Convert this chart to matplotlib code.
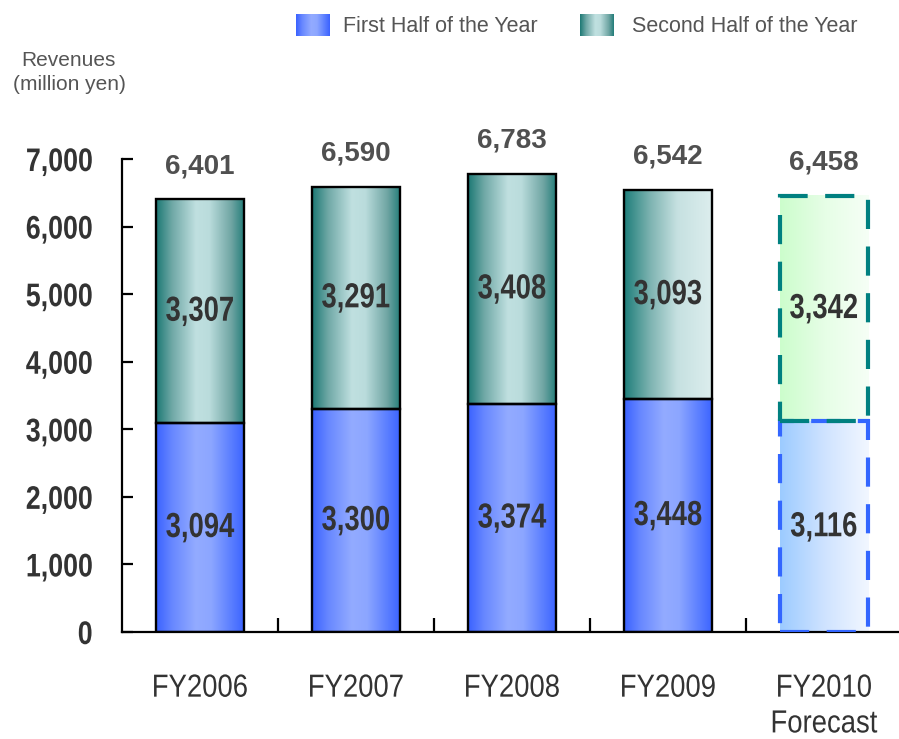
import numpy as np
import matplotlib
matplotlib.use("Agg")
import matplotlib.pyplot as plt
from matplotlib.colors import to_rgb
from matplotlib.patheffects import AbstractPathEffect
from matplotlib.transforms import Affine2D

# ---- data -------------------------------------------------------------
categories = ['FY2006', 'FY2007', 'FY2008', 'FY2009', 'FY2010\nForecast']
first_half = [3094, 3300, 3374, 3448, 3116]
second_half = [3307, 3291, 3408, 3093, 3342]
totals = [6401, 6590, 6783, 6542, 6458]
y_ticks = [0, 1000, 2000, 3000, 4000, 5000, 6000, 7000]
legend_labels = ['First Half of the Year', 'Second Half of the Year']

# ---- styling -------------------------------------------------------------
SANS = ['Liberation Sans', 'Arial', 'DejaVu Sans']


class Squeeze(AbstractPathEffect):
    """Horizontally condense text glyphs (narrow face look)."""

    def __init__(self, sx=0.82, anchor='center'):
        super().__init__()
        self.sx = sx
        self.anchor = anchor

    def draw_path(self, renderer, gc, tpath, affine, rgbFace=None):
        v = tpath.vertices
        if len(v):
            x0, x1 = v[:, 0].min(), v[:, 0].max()
            ref = {'center': 0.5 * (x0 + x1), 'right': x1, 'left': x0}[self.anchor]
        else:
            ref = 0.0
        squeeze = Affine2D().translate(-ref, 0).scale(self.sx, 1).translate(ref, 0)
        renderer.draw_path(gc, tpath, squeeze + affine, rgbFace)


VALUE_FX = [Squeeze(0.79, 'center')]
YTICK_FX = [Squeeze(0.82, 'right')]
XTICK_FX = [Squeeze(0.86, 'center')]

BLUE_STOPS = [(0.0, '#3A62FF'), (0.18, '#6787FF'), (0.45, '#93ABFF'),
              (0.62, '#8CA6FF'), (0.85, '#5A7EFF'), (1.0, '#3A62FF')]
TEAL_STOPS = [(0.0, '#1C7874'), (0.18, '#6FA8A6'), (0.45, '#C0E0E0'),
              (0.6, '#BADCDC'), (0.85, '#6FA5A3'), (1.0, '#217C78')]
TEAL_FADE_STOPS = [(0.0, '#1E7E7A'), (0.3, '#7FB4B2'), (0.6, '#C6E1E1'),
                   (1.0, '#DDEEEE')]
GREEN_FC_STOPS = [(0.0, '#CCFDCC'), (0.5, '#E6FEE6'), (1.0, '#F6FFF6')]
BLUE_FC_STOPS = [(0.0, '#9CCBFF'), (0.5, '#CFE3FF'), (1.0, '#F2F7FF')]


def hgrad(stops, n=256):
    """Horizontal colour ramp as a (1, n, 3) image."""
    pos = np.array([p for p, _ in stops])
    cols = np.array([to_rgb(c) for _, c in stops])
    t = np.linspace(0, 1, n)
    img = np.stack([np.interp(t, pos, cols[:, k]) for k in range(3)], axis=-1)
    return img[np.newaxis, :, :]


def fill_rect(ax, rect, stops, z):
    x0, y0 = rect.get_x(), rect.get_y()
    w, h = rect.get_width(), rect.get_height()
    ax.imshow(hgrad(stops), extent=(x0, x0 + w, y0, y0 + h), aspect='auto',
              interpolation='bilinear', zorder=z)


fig = plt.figure(figsize=(8.99, 7.39), dpi=100)
W, H = 899, 739
ax = fig.add_axes([122 / W, (H - 632) / H, (W - 122) / W, (632 - 159) / H])

x = np.arange(len(categories))
bar_w = 0.565
n_actual = 4

# actual years: solid black outline with gradient fill
b1 = ax.bar(x[:n_actual], first_half[:n_actual], width=bar_w, facecolor='none',
            edgecolor='black', linewidth=1.7, zorder=3)
b2 = ax.bar(x[:n_actual], second_half[:n_actual], width=bar_w,
            bottom=first_half[:n_actual], facecolor='none',
            edgecolor='black', linewidth=1.7, zorder=3)
for r in b1:
    fill_rect(ax, r, BLUE_STOPS, 2)
for i, r in enumerate(b2):
    fill_rect(ax, r, TEAL_FADE_STOPS if i == 3 else TEAL_STOPS, 2)

# forecast year: dashed outline, pale fill
f1 = ax.bar(x[n_actual:], first_half[n_actual:], width=bar_w, facecolor='none',
            edgecolor='#3366FF', linewidth=3.0, linestyle=(0, (7.0, 4.2)),
            zorder=3)
f2 = ax.bar(x[n_actual:], second_half[n_actual:], width=bar_w,
            bottom=first_half[n_actual:], facecolor='none',
            edgecolor='#008080', linewidth=3.0, linestyle=(0, (7.0, 4.2)),
            zorder=4)
fill_rect(ax, f1[0], BLUE_FC_STOPS, 2)
fill_rect(ax, f2[0], GREEN_FC_STOPS, 2)

# segment values and totals
for i in range(len(categories)):
    ax.text(x[i], first_half[i] / 2, f'{first_half[i]:,}', ha='center',
            va='center', fontsize=25, fontweight='bold', family=SANS,
            color='#333333', zorder=6, path_effects=VALUE_FX)
    ax.text(x[i], first_half[i] + second_half[i] / 2, f'{second_half[i]:,}',
            ha='center', va='center', fontsize=25, fontweight='bold',
            family=SANS, color='#333333', zorder=6, path_effects=VALUE_FX)
    ax.annotate(f'{totals[i]:,}', xy=(x[i], first_half[i] + second_half[i]),
                xytext=(0, 24), textcoords='offset points', ha='center',
                va='center', fontsize=20, fontweight='bold', family=SANS,
                color='#505050', annotation_clip=False)

# axes
ax.set_xlim(-0.5, -0.5 + (W - 122) / 156)
ax.set_ylim(0, 7000)
for s in ('top', 'right'):
    ax.spines[s].set_visible(False)
for s in ('left', 'bottom'):
    ax.spines[s].set_linewidth(1.6)
    ax.spines[s].set_color('black')

ax.set_yticks(y_ticks)
ax.set_yticklabels([f'{v:,}' for v in y_ticks], fontsize=23.5, fontweight='bold',
                   family=SANS, color='#333333')
for t in ax.get_yticklabels():
    t.set_path_effects(YTICK_FX)
ax.tick_params(axis='y', direction='in', length=8, width=1.6, pad=21)

ax.set_xticks(x)
ax.set_xticklabels(categories, fontsize=23, family=SANS, color='#333333',
                   linespacing=1.25, va='top')
for t in ax.get_xticklabels():
    t.set_path_effects(XTICK_FX)
ax.set_xticks(x[:-1] + 0.5, minor=True)
ax.tick_params(axis='x', which='major', length=0, pad=30)
ax.tick_params(axis='x', which='minor', direction='in', length=10, width=1.6)

# legend
leg_boxes = [(296, BLUE_STOPS), (580, TEAL_STOPS)]
leg_text_x = [343, 632]
for (bx, stops), tx, lab in zip(leg_boxes, leg_text_x, legend_labels):
    lax = fig.add_axes([bx / W, (H - 36) / H, 34 / W, 22 / H])
    lax.imshow(hgrad(stops), aspect='auto', interpolation='bilinear')
    lax.set_axis_off()
    fig.text(tx / W, 1 - 26 / H, lab, ha='left', va='center', fontsize=15.5,
             family=SANS, color='#555555')

# axis title
fig.text(68 / W, 1 - 61 / H, 'Revenues', ha='center', va='center',
         fontsize=15, family=SANS, color='#555555')
fig.text(69 / W, 1 - 84 / H, '(million yen)', ha='center', va='center',
         fontsize=15, family=SANS, color='#555555')

fig.savefig('out.png', dpi=100)
